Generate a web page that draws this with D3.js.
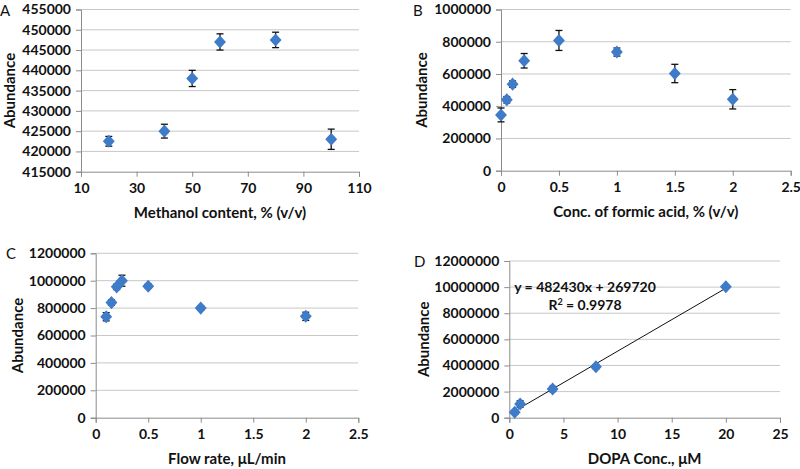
<!DOCTYPE html>
<html><head><meta charset="utf-8">
<script src="https://cdn.jsdelivr.net/npm/d3@7/dist/d3.min.js"></script>
<style>body{margin:0;background:#fff}svg text{font-family:Lato,"Open Sans",sans-serif;font-weight:bold;fill:#111}</style>
</head><body><svg id="c" width="800" height="469"></svg>
<script>
// Panel A
const aX = [20, 40, 50, 60, 80, 100];
const aY = [422500, 425000, 438000, 447000, 447500, 423000];
const aErr = [1200, 1700, 2000, 2000, 1900, 2500];
const aXTicks = [10, 30, 50, 70, 90, 110];
const aYTicks = [415000, 420000, 425000, 430000, 435000, 440000, 445000, 450000, 455000];
// Panel B
const bX = [0, 0.05, 0.1, 0.2, 0.5, 1, 1.5, 2];
const bY = [346000, 440000, 537000, 682000, 808000, 736000, 603000, 443000];
const bErr = [43000, 20000, 20000, 45000, 62000, 25000, 57000, 60000];
const bXTicks = [0, 0.5, 1, 1.5, 2, 2.5];
const bYTicks = [0, 200000, 400000, 600000, 800000, 1000000];
// Panel C
const cX = [0.1, 0.15, 0.2, 0.25, 0.5, 1, 2];
const cY = [737000, 840000, 955000, 1000000, 960000, 800000, 740000];
const cErr = [30000, 20000, 20000, 40000, 15000, 15000, 30000];
const cXTicks = [0, 0.5, 1, 1.5, 2, 2.5];
const cYTicks = [0, 200000, 400000, 600000, 800000, 1000000, 1200000];
// Panel D
const dX = [0.5, 1, 4, 8, 20];
const dY = [413000, 1050000, 2200000, 3900000, 10030000];
const dErr = [150000, 250000, 200000, 150000, 100000];
const dXTicks = [0, 5, 10, 15, 20, 25];
const dYTicks = [0, 2000000, 4000000, 6000000, 8000000, 10000000, 12000000];
const dFit = {slope: 482430, intercept: 269720, x0: 0.5, x1: 20, eq: "y = 482430x + 269720", r2: "0.9978"};

const svg = d3.select("#c");
const blue = "#3E7BC8";

function panel(o) {
  const g = svg.append("g");
  const x = d3.scaleLinear().domain([o.xt[0], o.xt[o.xt.length-1]]).range([o.l, o.r]);
  const y = d3.scaleLinear().domain([o.yt[0], o.yt[o.yt.length-1]]).range([o.b, o.t]);
  g.selectAll(".grid").data(o.yt.slice(1)).join("line")
    .attr("x1", o.l).attr("x2", o.r).attr("y1", d => y(d)).attr("y2", d => y(d))
    .attr("stroke", "#c8c8c8").attr("stroke-width", 1);
  const ya = g.append("g").attr("transform", `translate(${o.l},0)`)
    .call(d3.axisLeft(y).tickValues(o.yt).tickSize(5).tickPadding(5).tickFormat(d3.format("d")));
  const xa = g.append("g").attr("transform", `translate(0,${o.b})`)
    .call(d3.axisBottom(x).tickValues(o.xt).tickSize(5).tickPadding(6).tickFormat(d => String(d)));
  [ya, xa].forEach(a => {
    a.select(".domain").attr("stroke", "#8c8c8c");
    a.selectAll(".tick line").attr("stroke", "#8c8c8c");
    a.selectAll("text").attr("font-size", 14).style("font-family", "Lato").style("font-weight", "bold").attr("fill", "#111");
  });
  if (o.fit) {
    const f = o.fit;
    g.append("line").attr("x1", x(f.x0)).attr("x2", x(f.x1))
      .attr("y1", y(f.slope*f.x0+f.intercept)).attr("y2", y(f.slope*f.x1+f.intercept))
      .attr("stroke", "#111").attr("stroke-width", 1);
  }
  const pts = o.xs.map((v, i) => ({x: v, y: o.ys[i], e: o.es[i]}));
  const eb = g.selectAll(".eb").data(pts).join("g").attr("stroke", "#111").attr("stroke-width", 1.3);
  eb.append("line").attr("x1", d => x(d.x)).attr("x2", d => x(d.x)).attr("y1", d => y(d.y-d.e)).attr("y2", d => y(d.y+d.e));
  eb.append("line").attr("x1", d => x(d.x)-3.5).attr("x2", d => x(d.x)+3.5).attr("y1", d => y(d.y-d.e)).attr("y2", d => y(d.y-d.e));
  eb.append("line").attr("x1", d => x(d.x)-3.5).attr("x2", d => x(d.x)+3.5).attr("y1", d => y(d.y+d.e)).attr("y2", d => y(d.y+d.e));
  g.selectAll(".pt").data(pts).join("path")
    .attr("d", d3.symbol(d3.symbolDiamond2, 90))
    .attr("transform", d => `translate(${x(d.x)},${y(d.y)}) scale(1,1.1)`)
    .attr("fill", blue);
  g.append("text").attr("x", (o.l+o.r)/2).attr("y", o.b+46).attr("text-anchor", "middle").attr("font-size", 15).text(o.xlab);
  g.append("text").attr("transform", `translate(${o.ylx},${(o.t+o.b)/2}) rotate(-90)`).attr("text-anchor", "middle").attr("font-size", 15).text("Abundance");
  g.append("text").attr("x", o.px).attr("y", o.py).attr("font-size", 15).style("font-weight", "normal").text(o.label);
  if (o.fit) {
    g.append("text").attr("x", o.eqx).attr("y", o.eqy).attr("text-anchor", "middle").attr("font-size", 14).text(o.fit.eq);
    const t = g.append("text").attr("x", o.eqx).attr("y", o.eqy+18).attr("text-anchor", "middle").attr("font-size", 14);
    t.append("tspan").text("R");
    t.append("tspan").attr("dy", -5).attr("font-size", 9).text("2");
    t.append("tspan").attr("dy", 5).text(" = " + o.fit.r2);
  }
}

panel({xs: aX, ys: aY, es: aErr, xt: aXTicks, yt: aYTicks, l: 81, r: 359, t: 9.5, b: 171.7, xlab: "Methanol content, % (v/v)", ylx: 15, label: "A", px: 0, py: 16});
panel({xs: bX, ys: bY, es: bErr, xt: bXTicks, yt: bYTicks, l: 501, r: 790.7, t: 9.5, b: 170.7, xlab: "Conc. of formic acid, % (v/v)", ylx: 427, label: "B", px: 413, py: 16});
panel({xs: cX, ys: cY, es: cErr, xt: cXTicks, yt: cYTicks, l: 95.7, r: 358.3, t: 253.3, b: 417.7, xlab: "Flow rate, μL/min", ylx: 23, label: "C", px: 6, py: 259});
panel({xs: dX, ys: dY, es: dErr, xt: dXTicks, yt: dYTicks, l: 509.3, r: 780, t: 261, b: 417.7, xlab: "DOPA Conc., μM", ylx: 429, label: "D", px: 414, py: 267, fit: dFit, eqx: 585, eqy: 292});
</script></body></html>
